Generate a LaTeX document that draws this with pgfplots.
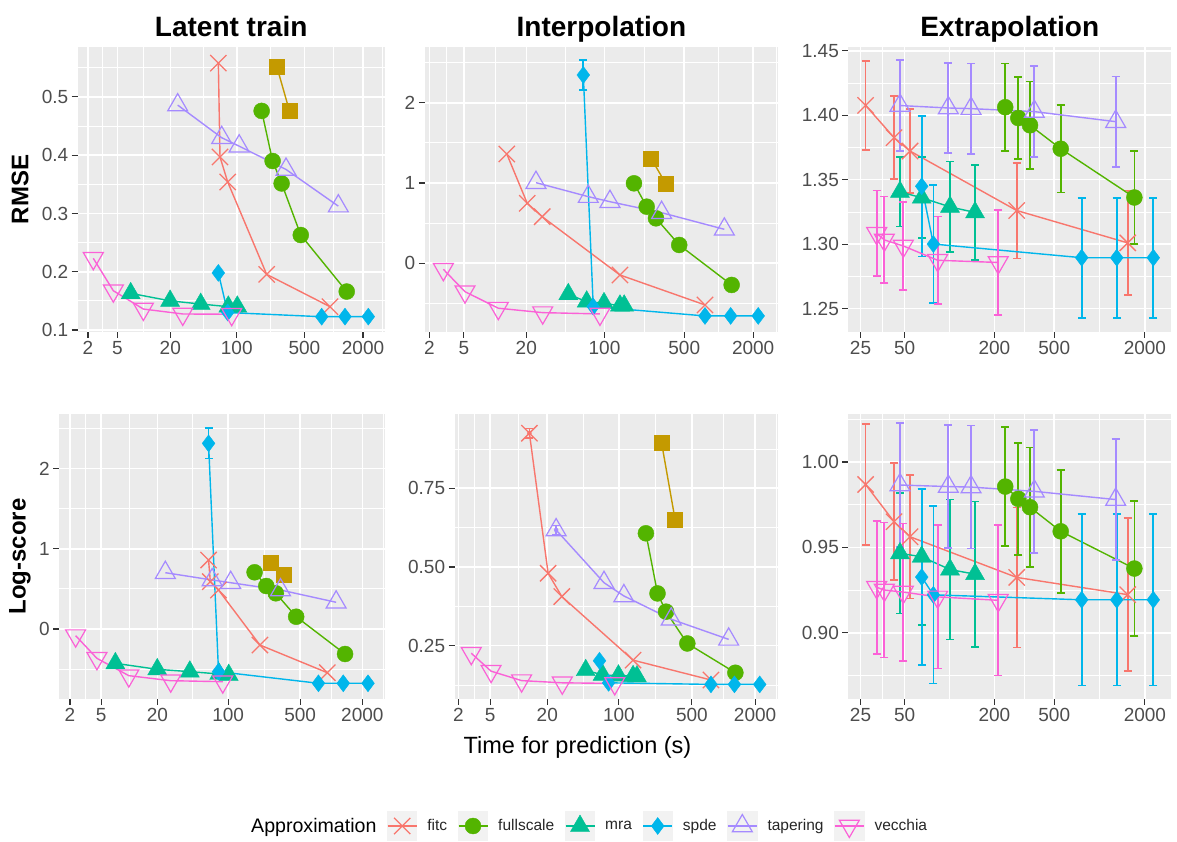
\documentclass[border=0pt]{standalone}
\usepackage{fontspec}
\setmainfont{Liberation Sans}
\usepackage{pgfplots}
\pgfplotsset{compat=1.18}

\definecolor{cfitc}{HTML}{F8766D}
\definecolor{cgold}{HTML}{C49A00}
\definecolor{cfull}{HTML}{53B400}
\definecolor{cmra}{HTML}{00C094}
\definecolor{cspde}{HTML}{00B6EB}
\definecolor{ctap}{HTML}{A58AFF}
\definecolor{cvec}{HTML}{FB61D7}
\definecolor{panelbg}{HTML}{EBEBEB}
\definecolor{tickc}{HTML}{333333}
\definecolor{labc}{HTML}{4D4D4D}
\definecolor{keybg}{HTML}{F2F2F2}

\pgfplotsset{
  panel/.style={
    scale only axis, height=285pt, anchor=south west,
    axis background/.style={fill=panelbg},
    axis line style={draw=none},
    grid=both,
    major grid style={draw=white, line width=1.6pt},
    minor grid style={draw=white, line width=0.8pt},
    tick align=outside, xtick pos=left, ytick pos=left,
    major tick length=6pt, minor tick length=0pt,
    tick style={draw=tickc, line width=1.1pt},
    ticklabel style={font=\fontsize{19}{22}\selectfont, text=labc},
    x coord trafo/.code={\pgfmathparse{ln(##1+1)}},
    x coord inv trafo/.code={\pgfmathparse{exp(##1)-1}},
  },
  sfitc/.style={color=cfitc, line width=1.4pt, mark=x, mark size=11.5pt, mark options={line width=1.3pt}},
  sgold/.style={color=cgold, line width=1.4pt, mark=square*, mark size=7.5pt, mark options={line width=0.4pt}},
  sfull/.style={color=cfull, line width=1.4pt, mark=*, mark size=8pt, mark options={line width=0.4pt}},
  smra/.style={color=cmra, line width=1.4pt, mark=triangle*, mark size=11pt, mark options={line width=0.4pt}},
  sspde/.style={color=cspde, line width=1.4pt, mark=diamond*, mark size=8.5pt, mark options={line width=0.4pt}},
  stap/.style={color=ctap, line width=1.4pt, mark=triangle, mark size=11.5pt, mark options={line width=1.2pt}},
  svec/.style={color=cvec, line width=1.4pt, mark=triangle, mark size=11.5pt, mark options={rotate=180, line width=1.2pt}},
  eb/.style={/pgfplots/error bars/y dir=both, /pgfplots/error bars/y explicit,
    /pgfplots/error bars/error bar style={line width=1.7pt},
    /pgfplots/error bars/error mark options={rotate=90, mark size=4pt, line width=1.7pt}},
}

\begin{document}
\begin{tikzpicture}
\useasboundingbox (0pt,0pt) rectangle (1177pt,842pt);

% ---------- Latent train, RMSE ----------
\begin{axis}[panel, at={(77.7pt,510pt)}, width=306.9pt,
  xmin=1.351, xmax=3332, ymin=0.0966, ymax=0.5857,
  xtick={2,5,20,100,500,2000}, xticklabels={2,5,20,100,500,2000},
  minor xtick={3.243,10.22,45.05,223.95,1000.3,3166},
  ytick={0.1,0.2,0.3,0.4,0.5}, yticklabels={0.1,0.2,0.3,0.4,0.5},
  minor ytick={0.15,0.25,0.35,0.45,0.55}]
\addplot[sfitc] coordinates {(64.4,0.558) (67,0.397) (80.6,0.354) (204,0.1955) (916,0.140)};
\addplot[sgold] coordinates {(259,0.5526) (349,0.477)};
\addplot[sfull] coordinates {(181,0.476) (235,0.390) (291,0.3515) (458,0.263) (1360,0.166)};
\addplot[smra] coordinates {(7.23,0.163) (19.9,0.150) (42.1,0.1446) (81.8,0.140) (101.4,0.140)};
\addplot[sspde] coordinates {(64.4,0.198) (80.6,0.130) (752,0.1228) (1306,0.123) (2266,0.123)};
\addplot[stap] coordinates {(24,0.486) (69.8,0.430) (106,0.4155) (323,0.3755) (1115,0.3126)};
\addplot[svec] coordinates {(2.40,0.223) (4.46,0.1674) (10.1,0.136) (27.2,0.1275) (88.7,0.127)};
\end{axis}

% ---------- Interpolation, RMSE ----------
\begin{axis}[panel, at={(424.8pt,510pt)}, width=353.2pt,
  xmin=1.735, xmax=3293, ymin=-0.856, ymax=2.694,
  xtick={2,5,20,100,500,2000}, xticklabels={2,5,20,100,500,2000},
  minor xtick={3.243,10.22,45.05,223.95,1000.3,3166},
  ytick={0,1,2}, yticklabels={0,1,2},
  minor ytick={-0.5,0.5,1.5,2.5}]
\addplot[sfitc] coordinates {(13.2,1.361) (20.4,0.747) (27.9,0.580) (136.8,-0.146) (759,-0.519)};
\addplot[sgold] coordinates {(256,1.308) (346,0.988)};
\addplot[sfull] coordinates {(181.6,0.996) (234.6,0.705) (283,0.560) (452,0.228) (1297,-0.270)};
\addplot[smra] coordinates {(47.8,-0.386) (69.6,-0.478) (99,-0.498) (136.8,-0.528) (149,-0.528)};
\addplot[sspde] coordinates {(65,2.345) (79.6,-0.540) (759,-0.656) (1271,-0.656) (2213,-0.656)};
\addplot[cspde, mark=none, only marks, eb] coordinates {(65,2.345) +- (0,0.185)};
\addplot[stap] coordinates {(24.5,1.004) (71.9,0.83) (111.7,0.767) (317,0.630) (1120,0.423)};
\addplot[svec] coordinates {(2.97,-0.075) (5.13,-0.354) (10.97,-0.560) (28.2,-0.615) (91.2,-0.631)};
\end{axis}

% ---------- Extrapolation, RMSE ----------
\begin{axis}[panel, at={(848.4pt,510pt)}, width=322.6pt,
  xmin=20.61, xmax=2980, ymin=1.2319, ymax=1.4529,
  xtick={25,50,200,500,2000}, xticklabels={25,50,200,500,2000},
  minor xtick={35.4,100.2,316.3,1000.3},
  ytick={1.25,1.30,1.35,1.40,1.45}, yticklabels={1.25,1.30,1.35,1.40,1.45},
  minor ytick={1.275,1.325,1.375,1.425}]
\addplot[sfitc, eb] coordinates {(27.1,1.4076) +- (0,0.0346) (42.4,1.3826) +- (0,0.0323) (54.4,1.3722) +- (0,0.0327) (281.4,1.3261) +- (0,0.0371) (1538,1.3010) +- (0,0.0405)};
\addplot[sfull, eb] coordinates {(236,1.4062) +- (0,0.034) (288.5,1.3978) +- (0,0.032) (345,1.3922) +- (0,0.0339) (552,1.374) +- (0,0.034) (1702,1.3362) +- (0,0.036)};
\addplot[smra, eb] coordinates {(46.5,1.3405) +- (0,0.0269) (65.2,1.336) +- (0,0.0314) (101,1.3289) +- (0,0.0352) (148.5,1.3246) +- (0,0.0368)};
\addplot[sspde, eb] coordinates {(65.2,1.3449) +- (0,0.0545) (78.1,1.3001) +- (0,0.0459) (761,1.2895) +- (0,0.0465) (1300,1.2895) +- (0,0.0465) (2273,1.2895) +- (0,0.0465)};
\addplot[stap, eb] coordinates {(46.5,1.4075) +- (0,0.0353) (98.4,1.4056) +- (0,0.0351) (139.6,1.4051) +- (0,0.0351) (368.6,1.4028) +- (0,0.0354) (1280,1.395) +- (0,0.0349)};
\addplot[svec, eb] coordinates {(32.3,1.3084) +- (0,0.0331) (36.4,1.3033) +- (0,0.0336) (49,1.2986) +- (0,0.0341) (83.5,1.2875) +- (0,0.0339) (212,1.2858) +- (0,0.0407)};
\end{axis}

% ---------- Latent train, Log-score ----------
\begin{axis}[panel, at={(59.3pt,143pt)}, width=325.3pt,
  xmin=1.365, xmax=3279, ymin=-0.873, ymax=2.681,
  xtick={2,5,20,100,500,2000}, xticklabels={2,5,20,100,500,2000},
  minor xtick={3.243,10.22,45.05,223.95,1000.3,3166},
  ytick={0,1,2}, yticklabels={0,1,2},
  minor ytick={-0.5,0.5,1.5,2.5}]
\addplot[sfitc] coordinates {(64.4,0.860) (67,0.590) (80.6,0.486) (204,-0.20) (916,-0.545)};
\addplot[sgold] coordinates {(259,0.827) (349,0.682)};
\addplot[sfull] coordinates {(181,0.707) (235,0.536) (291,0.445) (458,0.153) (1360,-0.312)};
\addplot[smra] coordinates {(7.23,-0.428) (19.9,-0.503) (42.1,-0.532) (81.8,-0.561) (101.4,-0.574)};
\addplot[sspde] coordinates {(64.4,2.315) (80.6,-0.532) (752,-0.677) (1306,-0.677) (2266,-0.677)};
\addplot[cspde, mark=none, only marks, eb] coordinates {(64.4,2.315) +- (0,0.19)};
\addplot[stap] coordinates {(24,0.702) (69.8,0.611) (106,0.577) (323,0.486) (1115,0.333)};
\addplot[svec] coordinates {(2.40,-0.083) (4.46,-0.366) (10.1,-0.582) (27.2,-0.645) (88.7,-0.657)};
\end{axis}

% ---------- Interpolation, Log-score ----------
\begin{axis}[panel, at={(454.6pt,143pt)}, width=323.4pt,
  xmin=1.754, xmax=3306, ymin=0.0806, ymax=0.986,
  xtick={2,5,20,100,500,2000}, xticklabels={2,5,20,100,500,2000},
  minor xtick={3.243,10.22,45.05,223.95,1000.3,3166},
  ytick={0.25,0.5,0.75}, yticklabels={0.25,0.50,0.75},
  minor ytick={0.125,0.375,0.625,0.875}]
\addplot[sfitc] coordinates {(13.2,0.925) (20.4,0.480) (27.9,0.406) (136.8,0.204) (759,0.141)};
\addplot[cfitc, mark=none, only marks, eb] coordinates {(13.2,0.925) +- (0,0.015)};
\addplot[sgold] coordinates {(256,0.896) (346,0.649)};
\addplot[sfull] coordinates {(181.6,0.607) (234.6,0.416) (283,0.358) (452,0.257) (1297,0.164)};
\addplot[smra] coordinates {(47.8,0.172) (69.6,0.157) (99,0.155) (136.8,0.153) (149,0.152)};
\addplot[sspde] coordinates {(65,0.202) (79.6,0.132) (759,0.127) (1271,0.127) (2213,0.127)};
\addplot[stap] coordinates {(24.5,0.6175) (71.9,0.450) (111.7,0.408) (317,0.334) (1120,0.270)};
\addplot[ctap, mark=none, only marks, eb] coordinates {(24.5,0.6175) +- (0,0.014)};
\addplot[svec] coordinates {(2.97,0.226) (5.13,0.169) (10.97,0.139) (28.2,0.132) (91.2,0.130)};
\end{axis}

% ---------- Extrapolation, Log-score ----------
\begin{axis}[panel, at={(848.4pt,143pt)}, width=322.6pt,
  xmin=20.61, xmax=2980, ymin=0.8612, ymax=1.0281,
  xtick={25,50,200,500,2000}, xticklabels={25,50,200,500,2000},
  minor xtick={35.4,100.2,316.3,1000.3},
  ytick={0.9,0.95,1.0}, yticklabels={0.90,0.95,1.00},
  minor ytick={0.875,0.925,0.975,1.025}]
\addplot[sfitc, eb] coordinates {(27.1,0.9868) +- (0,0.0355) (42.4,0.965) +- (0,0.0342) (54.4,0.9562) +- (0,0.0362) (281.4,0.9324) +- (0,0.041) (1538,0.9223) +- (0,0.0447)};
\addplot[sfull, eb] coordinates {(236,0.9856) +- (0,0.0347) (288.5,0.9784) +- (0,0.0329) (345,0.9735) +- (0,0.0349) (552,0.9594) +- (0,0.036) (1702,0.9376) +- (0,0.0397)};
\addplot[smra, eb] coordinates {(46.5,0.9465) +- (0,0.0352) (65.2,0.9445) +- (0,0.04) (101,0.937) +- (0,0.041) (148.5,0.9343) +- (0,0.0425)};
\addplot[sspde, eb] coordinates {(65.2,0.9326) +- (0,0.0516) (78.1,0.9222) +- (0,0.052) (761,0.9193) +- (0,0.0502) (1300,0.9193) +- (0,0.0502) (2273,0.9193) +- (0,0.0502)};
\addplot[stap, eb] coordinates {(46.5,0.9865) +- (0,0.0362) (98.4,0.9856) +- (0,0.036) (139.6,0.9853) +- (0,0.036) (368.6,0.9828) +- (0,0.036) (1280,0.978) +- (0,0.0355)};
\addplot[svec, eb] coordinates {(32.3,0.9266) +- (0,0.039) (36.4,0.925) +- (0,0.0395) (49,0.9238) +- (0,0.0402) (83.5,0.921) +- (0,0.042) (212,0.919) +- (0,0.044)};
\end{axis}

% ---------- legend ----------
\begin{axis}[hide axis, scale only axis, anchor=south west, at={(0pt,0pt)},
  width=1177pt, height=842pt, xmin=0, xmax=1177, ymin=0, ymax=842,
  legend columns=-1,
  legend image code/.code={
    \fill[keybg] (-14.5pt,-14.5pt) rectangle (14.5pt,14.5pt);
    \draw[#1, mark=none] (-14.5pt,0pt) -- (14.5pt,0pt);
    \draw[#1] plot coordinates {(0pt,0pt)};
  },
  legend style={at={(387/1177,16/842)}, anchor=west, draw=none, fill=none,
    inner sep=0pt, outer sep=0pt,
    font=\fontsize{15.5}{18}\selectfont, text=black!85,
    nodes={inner sep=0pt},
    /tikz/every even column/.append style={column sep=10.6pt},
    /tikz/every odd column/.append style={column sep=10pt}}]
\addlegendimage{sfitc}\addlegendentry{fitc}
\addlegendimage{sfull}\addlegendentry{fullscale}
\addlegendimage{smra}\addlegendentry{mra}
\addlegendimage{sspde}\addlegendentry{spde}
\addlegendimage{stap}\addlegendentry{tapering}
\addlegendimage{svec}\addlegendentry{vecchia}
\end{axis}

% ---------- texts ----------
\node[font=\fontsize{28}{32}\selectfont\bfseries, anchor=base] at (231.2pt,805.6pt) {Latent train};
\node[font=\fontsize{28}{32}\selectfont\bfseries, anchor=base] at (601.4pt,805.6pt) {Interpolation};
\node[font=\fontsize{28}{32}\selectfont\bfseries, anchor=base] at (1009.7pt,805.6pt) {Extrapolation};
\node[font=\fontsize{24}{28}\selectfont\bfseries, rotate=90] at (20pt,652.5pt) {RMSE};
\node[font=\fontsize{24}{28}\selectfont\bfseries, rotate=90] at (20pt,285.5pt) {Log-score};
\node[font=\fontsize{23.5}{26}\selectfont, anchor=base] at (577.5pt,88pt) {Time for prediction (s)};
\node[font=\fontsize{19.6}{22}\selectfont, anchor=base west, inner sep=0pt] at (251pt,9pt) {Approximation};
\end{tikzpicture}
\end{document}
